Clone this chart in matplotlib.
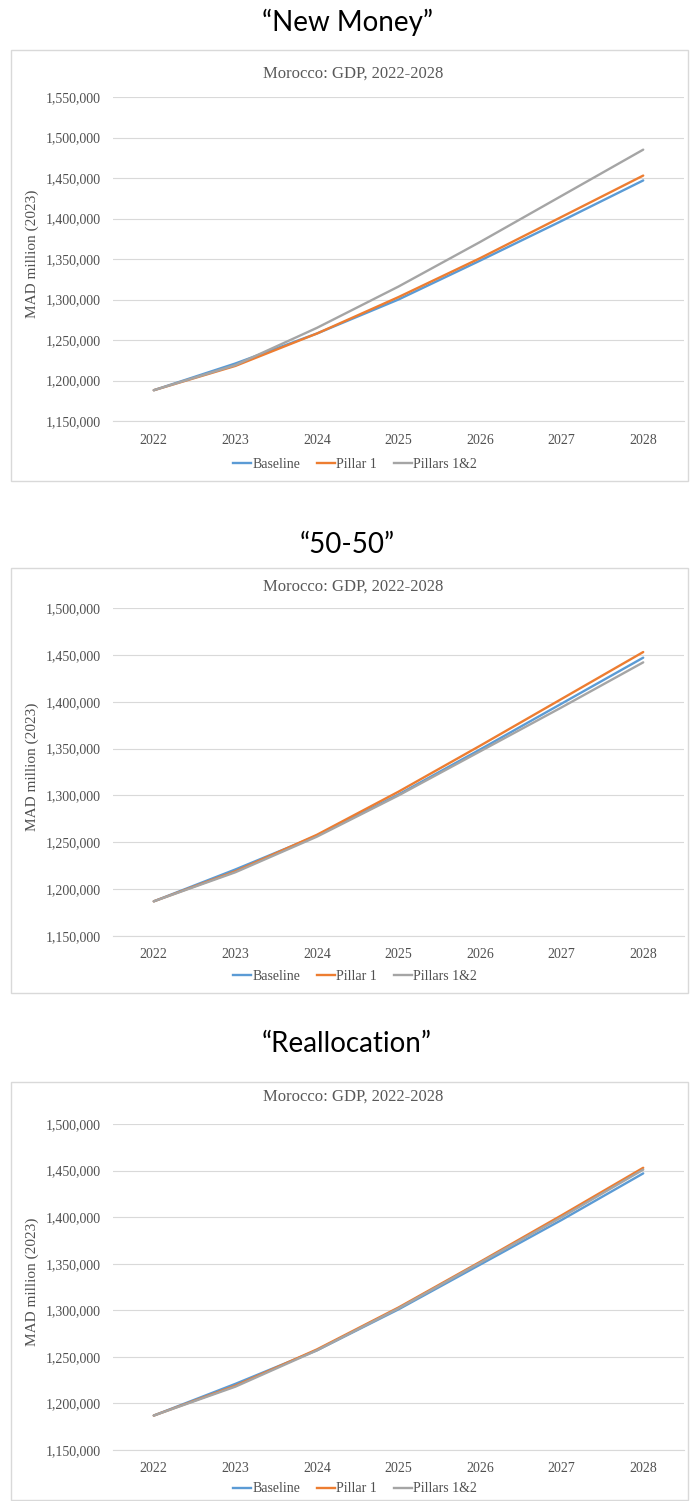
import matplotlib.pyplot as plt
from matplotlib.patches import Rectangle
from matplotlib.lines import Line2D
from matplotlib.ticker import FuncFormatter

# data (MAD million, 2023 prices)
years = ['2022', '2023', '2024', '2025', '2026', '2027', '2028']
series_names = ['Baseline', 'Pillar 1', 'Pillars 1&2']

nm_baseline = [1188000, 1221000, 1258000, 1300000, 1348000, 1397000, 1447000]
nm_pillar1 = [1188000, 1218000, 1258000, 1303000, 1351000, 1402000, 1453000]
nm_pillars12 = [1188000, 1219000, 1265000, 1316000, 1371000, 1428000, 1485000]

ff_baseline = [1187000, 1221000, 1257000, 1301000, 1349000, 1398000, 1447000]
ff_pillar1 = [1187000, 1219000, 1258000, 1304000, 1353000, 1403000, 1453000]
ff_pillars12 = [1187000, 1218000, 1256000, 1300000, 1347000, 1394000, 1442000]

re_baseline = [1187000, 1221000, 1257000, 1301000, 1349000, 1397000, 1447000]
re_pillar1 = [1187000, 1219000, 1258000, 1303000, 1352000, 1402000, 1453000]
re_pillars12 = [1187000, 1218000, 1257000, 1302000, 1351000, 1400000, 1451000]

panel_titles = ['\u201cNew Money\u201d', '\u201c50-50\u201d', '\u201cReallocation\u201d']
chart_title = 'Morocco: GDP, 2022-2028'
ylabel = 'MAD million (2023)'

colors = ['#5B9BD5', '#ED7D31', '#A5A5A5']
serif = 'Liberation Serif'
txt_grey = '#505050'

W, H = 694, 1501
fig = plt.figure(figsize=(W / 100, H / 100), dpi=100)


def fx(x):
    return x / W


def fy(y):
    return 1 - y / H


# layout in pixels: heading, box top, inner title, axes top, axes bottom, legend, box bottom, ylim
layouts = [
    dict(head=22, box_top=50, ttl=74, top=97, bottom=421, leg=464, box_bot=481, ylim=(1150000, 1550000)),
    dict(head=545, box_top=568, ttl=587, top=608, bottom=936, leg=976, box_bot=993, ylim=(1150000, 1500000)),
    dict(head=1044, box_top=1082, ttl=1097, top=1124, bottom=1450, leg=1489, box_bot=1500, ylim=(1150000, 1500000)),
]
data = [
    [nm_baseline, nm_pillar1, nm_pillars12],
    [ff_baseline, ff_pillar1, ff_pillars12],
    [re_baseline, re_pillar1, re_pillars12],
]

left, right = 113, 684
box_l, box_r = 11, 688

for title, lay, series in zip(panel_titles, layouts, data):
    fig.text(0.5, fy(lay['head']), title, ha='center', va='center',
             fontsize=20, family='Lato', color='black')

    fig.patches.append(Rectangle((fx(box_l), fy(lay['box_bot'])), fx(box_r - box_l),
                                 (lay['box_bot'] - lay['box_top']) / H,
                                 transform=fig.transFigure, fill=False,
                                 edgecolor='#d9d9d9', lw=1))

    fig.text(fx(353), fy(lay['ttl']), chart_title, ha='center', va='center',
             fontsize=12, family=serif, color='#595959')

    ax = fig.add_axes([fx(left), fy(lay['bottom']), fx(right - left),
                       (lay['bottom'] - lay['top']) / H])
    x = range(len(years))
    for vals, c, name in zip(series, colors, series_names):
        ax.plot(x, vals, color=c, lw=1.7, label=name, solid_capstyle='round')

    ax.set_xlim(-0.5, len(years) - 0.5)
    ax.set_ylim(*lay['ylim'])
    ax.set_yticks(range(lay['ylim'][0], lay['ylim'][1] + 1, 50000))
    ax.yaxis.set_major_formatter(FuncFormatter(lambda v, p: f'{int(v):,}'))
    ax.set_xticks(list(x))
    ax.set_xticklabels(years)
    ax.grid(axis='y', color='#d9d9d9', lw=0.8)
    ax.set_axisbelow(True)
    for s in ['top', 'right', 'left']:
        ax.spines[s].set_visible(False)
    ax.spines['bottom'].set_color('#d9d9d9')
    ax.tick_params(length=0, labelsize=10, labelcolor=txt_grey, pad=9)
    for lbl in ax.get_xticklabels() + ax.get_yticklabels():
        lbl.set_family(serif)

    fig.text(fx(32), fy((lay['top'] + lay['bottom']) / 2 - 5), ylabel, rotation=90,
             ha='center', va='center', fontsize=11, family=serif, color=txt_grey)

    handles = [Line2D([0], [0], color=c, lw=1.7) for c in colors]
    fig.legend(handles, series_names, loc='center', bbox_to_anchor=(fx(355), fy(lay['leg'])),
               ncol=3, frameon=False, prop={'family': serif, 'size': 10},
               handlelength=1.3, handletextpad=0.1, columnspacing=1.2,
               labelcolor=txt_grey)

fig.savefig('out.png', dpi=100, facecolor='white')
